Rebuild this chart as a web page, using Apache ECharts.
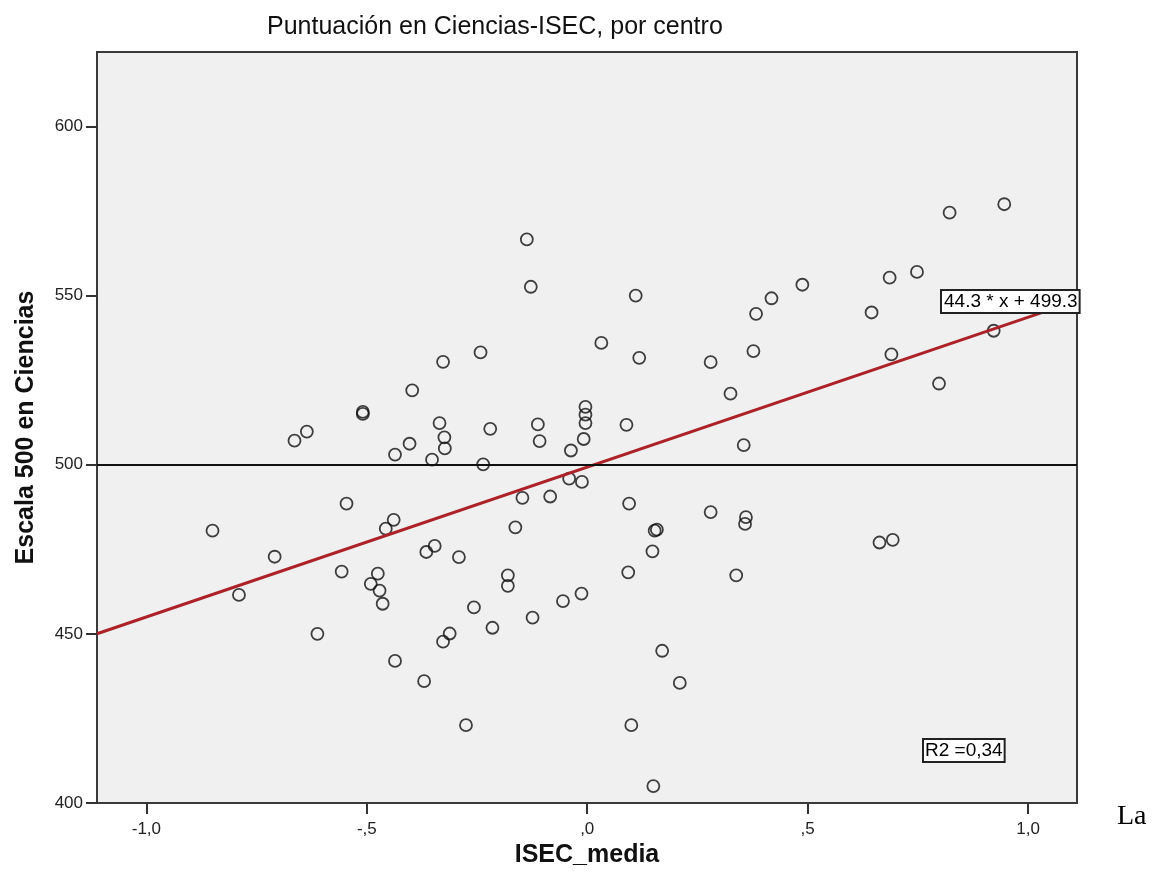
<!DOCTYPE html>
<html>
<head>
<meta charset="utf-8">
<script src="https://cdn.jsdelivr.net/npm/echarts@6/dist/echarts.min.js"></script>
<style>
  html, body { margin: 0; padding: 0; background: #ffffff; }
  #chart { width: 1154px; height: 886px; }
</style>
</head>
<body>
<div id="chart"></div>
<script>
// ---- data ----
const isecMedia = [
  -0.850, -0.790, -0.709, -0.664, -0.636, -0.612, -0.557, -0.546, -0.509, -0.509,
  -0.491, -0.475, -0.471, -0.464, -0.457, -0.439, -0.436, -0.436, -0.403, -0.397,
  -0.370, -0.365, -0.352, -0.346, -0.335, -0.327, -0.324, -0.323, -0.327, -0.312,
  -0.291, -0.275, -0.257, -0.242, -0.236, -0.220, -0.215, -0.180, -0.180, -0.163,
  -0.137, -0.147, -0.128, -0.124, -0.112, -0.108, -0.084, -0.055, -0.037, -0.041,
  -0.012, -0.013, -0.004, -0.004, -0.004, -0.008, 0.032, 0.089, 0.093, 0.095,
  0.100, 0.110, 0.118, 0.148, 0.150, 0.153, 0.158, 0.170, 0.210, 0.280,
  0.280, 0.325, 0.338, 0.355, 0.360, 0.358, 0.377, 0.383, 0.418, 0.488,
  0.645, 0.663, 0.686, 0.690, 0.693, 0.748, 0.798, 0.822, 0.922, 0.946
];
const puntuacion = [
  480.5, 461.5, 472.8, 507.1, 509.8, 450.0, 468.4, 488.5, 515.6, 515.0,
  464.8, 467.8, 462.8, 458.9, 481.1, 483.7, 503.0, 442.0, 506.2, 522.0,
  436.0, 474.2, 501.5, 476.0, 512.3, 530.4, 508.1, 504.8, 447.7, 450.1,
  472.7, 423.0, 457.8, 533.2, 500.1, 510.6, 451.8, 467.3, 464.2, 481.5,
  566.6, 490.2, 552.6, 454.8, 511.9, 507.0, 490.6, 459.7, 504.2, 495.9,
  494.9, 461.9, 517.1, 514.8, 512.3, 507.6, 536.0, 511.8, 468.2, 488.5,
  423.0, 550.0, 531.6, 474.4, 405.0, 480.5, 480.8, 445.0, 435.5, 530.3,
  486.0, 521.0, 467.3, 505.8, 484.5, 482.5, 533.6, 544.6, 549.2, 553.2,
  545.0, 477.0, 555.3, 532.6, 477.8, 557.0, 524.0, 574.5, 539.6, 577.0
];
const xTicks = [-1.0, -0.5, 0.0, 0.5, 1.0];
const yTicks = [400, 450, 500, 550, 600];
const xRange = [-1.112, 1.111];
const yRange = [400, 622];
const fitSlope = 44.3;
const fitIntercept = 499.3;
const refLine = 500;
const fitLabel = '44.3 * x + 499.3';
const r2Label = 'R2 =0,34';
const titleText = 'Puntuación en Ciencias-ISEC, por centro';
const xName = 'ISEC_media';
const yName = 'Escala 500 en Ciencias';

// ---- build ----
const points = isecMedia.map((x, i) => [x, puntuacion[i]]);
const fitLine = xRange.map(x => [x, fitSlope * x + fitIntercept]);

function fmtX(v) {
  let s = Math.abs(v).toFixed(1).replace('.', ',');
  if (s.startsWith('0')) s = s.slice(1);
  return (v < 0 ? '-' : '') + s;
}

const FONT = "'Liberation Sans', Arial, sans-serif";

const chart = echarts.init(document.getElementById('chart'), null, { renderer: 'canvas' });
chart.setOption({
  animation: false,
  backgroundColor: '#ffffff',
  title: {
    text: titleText,
    left: 262,
    top: 10,
    textStyle: { fontFamily: FONT, fontSize: 25, fontWeight: 'normal', color: '#111' }
  },
  grid: {
    left: 97, right: 77, top: 52, bottom: 83,
    show: true,
    backgroundColor: '#f0f0f0',
    borderColor: '#3a3a3a',
    borderWidth: 2
  },
  xAxis: {
    type: 'value',
    min: xRange[0], max: xRange[1],
    name: xName,
    nameLocation: 'middle',
    nameGap: 24,
    nameTextStyle: { fontFamily: FONT, fontSize: 25, fontWeight: 'bold', color: '#111' },
    axisLine: { show: false, onZero: false },
    splitLine: { show: false },
    axisTick: { show: true, length: 11, lineStyle: { color: '#333', width: 2 }, customValues: xTicks },
    axisLabel: { customValues: xTicks, formatter: fmtX, margin: 18, fontFamily: FONT, fontSize: 17, color: '#222' }
  },
  yAxis: {
    type: 'value',
    min: yRange[0], max: yRange[1],
    name: yName,
    nameLocation: 'middle',
    nameGap: 58,
    nameTextStyle: { fontFamily: FONT, fontSize: 25, fontWeight: 'bold', color: '#111' },
    axisLine: { show: false, onZero: false },
    splitLine: { show: false },
    axisTick: { show: true, length: 11, lineStyle: { color: '#333', width: 2 }, customValues: yTicks },
    axisLabel: { customValues: yTicks, margin: 14, fontFamily: FONT, fontSize: 17, color: '#222' }
  },
  series: [
    {
      type: 'line',
      data: [],
      markLine: {
        silent: true,
        symbol: 'none',
        label: { show: false },
        lineStyle: { color: '#111', width: 2, type: 'solid' },
        data: [{ yAxis: refLine }]
      }
    },
    {
      type: 'scatter',
      data: points,
      symbol: 'circle',
      symbolSize: 12,
      itemStyle: { color: 'rgba(0,0,0,0)', borderColor: '#111', borderWidth: 1.8 },
      z: 3
    },
    {
      type: 'line',
      data: fitLine,
      showSymbol: false,
      lineStyle: { color: '#ad2229', width: 3 },
      z: 4
    }
  ],
  graphic: [
    {
      type: 'text', left: 940, top: 289, z: 100,
      style: {
        text: fitLabel, fontFamily: FONT, fontSize: 19, fill: '#000',
        backgroundColor: '#fff', borderColor: '#222', borderWidth: 2, padding: [1, 1, 1, 2]
      }
    },
    {
      type: 'text', left: 922, top: 738, z: 100,
      style: {
        text: r2Label, fontFamily: FONT, fontSize: 19, fill: '#000',
        backgroundColor: '#fff', borderColor: '#222', borderWidth: 2, padding: [1, 1, 1, 1]
      }
    },
    {
      type: 'text', left: 1117, top: 803, z: 100,
      style: { text: 'La', fontFamily: "'Liberation Serif', 'Times New Roman', serif", fontSize: 28, fill: '#000' }
    }
  ]
});
</script>
</body>
</html>
